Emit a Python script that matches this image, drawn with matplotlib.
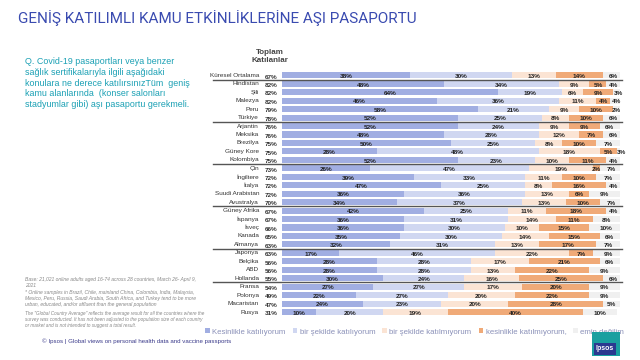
import numpy as np
import matplotlib.pyplot as plt
from matplotlib.patches import Patch, Rectangle
from matplotlib.transforms import blended_transform_factory

plt.rcParams['font.family'] = ['Liberation Sans', 'DejaVu Sans']

countries = ['Küresel Ortalama', 'Hindistan', 'Şili', 'Malezya', 'Peru', 'Türkiye',
             'Arjantin', 'Meksika', 'Brezilya', 'Güney Kore', 'Kolombiya',
             'Çin', 'İngiltere', 'İtalya', 'Suudi Arabistan', 'Avustralya',
             'Güney Afrika', 'İspanya', 'İsveç', 'Kanada', 'Almanya',
             'Japonya', 'Belçika', 'ABD', 'Hollanda',
             'Fransa', 'Polonya', 'Macaristan', 'Rusya']
total_agree = [67, 82, 82, 82, 79, 78, 76, 76, 75, 75, 75, 73, 72, 72, 72, 70,
               67, 67, 66, 65, 63, 63, 56, 56, 55, 54, 49, 47, 31]
strongly_agree = [38, 48, 64, 46, 58, 52, 52, 48, 50, 28, 52, 26, 39, 47, 36, 34,
                  42, 36, 36, 35, 32, 17, 28, 28, 30, 27, 22, 24, 10]
somewhat_agree = [30, 34, 19, 36, 21, 25, 24, 28, 25, 48, 23, 47, 33, 25, 36, 37,
                  25, 31, 30, 30, 31, 46, 28, 28, 24, 27, 27, 23, 20]
somewhat_disagree = [13, 9, 6, 11, 9, 8, 9, 12, 8, 18, 10, 19, 11, 8, 13, 13,
                     11, 14, 10, 14, 13, 22, 17, 13, 16, 17, 20, 20, 19]
strongly_disagree = [14, 5, 9, 4, 10, 10, 9, 7, 10, 5, 11, 2, 10, 16, 6, 10,
                     18, 11, 15, 15, 17, 7, 21, 22, 25, 20, 22, 28, 40]
not_sure = [6, 4, 3, 4, 2, 6, 6, 6, 7, 3, 4, 7, 7, 4, 9, 7,
            4, 8, 10, 6, 7, 9, 6, 9, 6, 9, 9, 5, 10]
series_names = ['Kesinlikle katılıyorum', 'bir şekilde katılıyorum',
                'bir şekilde katılmıyorum', 'kesinlikle katılmıyorum,', 'emin değilim']
# rows after which a separator line is drawn
group_breaks = [0, 5, 10, 15, 20, 24]

colors = ['#a1aee2', '#d0d7f1', '#fbe4d4', '#f0aa78', '#f0f0f0']
series = [strongly_agree, somewhat_agree, somewhat_disagree, strongly_disagree, not_sure]

fig = plt.figure(figsize=(6.4, 3.6), dpi=100)
ax = fig.add_axes([0.4406, 0.1214, 0.528, 0.681])

y = np.arange(len(countries))
left = np.zeros(len(countries))
for vals, col in zip(series, colors):
    vals = np.array(vals, dtype=float)
    ax.barh(y, vals, left=left, height=0.72, color=col, edgecolor='none')
    for yi, l, v in zip(y, left, vals):
        ax.text(l + v / 2, yi + 0.15, f'{int(v)}%', ha='center', va='center',
                fontsize=4.6, color='#222222', fontweight='bold')
    left += vals

ax.set_xlim(0, 100)
ax.set_ylim(len(countries) - 0.5, -0.5)
ax.axis('off')

tr = blended_transform_factory(ax.transAxes, ax.transData)
for yi, name, tot in zip(y, countries, total_agree):
    ax.text(-0.068, yi, name, transform=tr, ha='right', va='center',
            fontsize=4.6, color='#333333')
    ax.text(-0.05, yi + 0.2, f'{tot}%', transform=tr, ha='left', va='center',
            fontsize=4.6, color='#333333', fontweight='bold')
for b in group_breaks:
    ax.plot([-0.204, 1.006], [b + 0.5, b + 0.5], transform=tr, color='#555555',
            lw=1.0, clip_on=False)

fig.text(270 / 640, 1 - 56 / 360, 'Toplam\nKatılanlar', ha='center', va='center',
         fontsize=5.8, fontweight='bold', color='#444444', linespacing=1.2)

fig.text(18 / 640, 1 - 18 / 360, 'GENİŞ KATILIMLI KAMU ETKİNLİKLERİNE AŞI PASAPORTU',
         ha='left', va='center', fontsize=11, color='#3a4bb0', family='Roboto')

fig.text(25 / 640, 1 - 57 / 360,
         'Q. Covid-19 pasaportları veya benzer\nsağlık sertifikalarıyla ilgili aşağıdaki\n'
         'konulara ne derece katılırsınızTüm  geniş\nkamu alanlarında  (konser salonları\n'
         'stadyumlar gibi) aşı pasaportu gerekmeli.',
         ha='left', va='top', fontsize=6.4, color='#1aa0b4', linespacing=1.25)

fig.text(25 / 640, 1 - 277 / 360,
         'Base: 21,021 online adults aged 16-74 across 28 countries, March 26- April 9,\n2021',
         ha='left', va='top', fontsize=3.6, color='#888888', style='italic')
fig.text(25 / 640, 1 - 290 / 360,
         '* Online samples in Brazil, Chile, mainland China, Colombia, India, Malaysia,\n'
         'Mexico, Peru, Russia, Saudi Arabia, South Africa, and Turkey tend to be more\n'
         'urban, educated, and/or affluent than the general population',
         ha='left', va='top', fontsize=3.6, color='#888888', style='italic')
fig.text(25 / 640, 1 - 311 / 360,
         'The "Global Country Average" reflects the average result for all the countries where the\n'
         'survey was conducted. It has not been adjusted to the population size of each country\n'
         'or market and is not intended to suggest a total result.',
         ha='left', va='top', fontsize=3.3, color='#888888', style='italic')

fig.text(42 / 640, 1 - 341 / 360,
         '© Ipsos | Global views on personal health data and vaccine passports',
         ha='left', va='center', fontsize=4.4, color='#3a3a8a')

handles = [Patch(facecolor=c, edgecolor='none') for c in colors]
fig.legend(handles, series_names, loc='center left', bbox_to_anchor=(200 / 640, 1 - 332 / 360),
           ncol=5, frameon=False, fontsize=5.6, handlelength=0.6, handleheight=0.6,
           handletextpad=0.3, columnspacing=0.9, labelcolor='#8a90b8',
           borderpad=0.2)

fig.patches.append(Rectangle((592 / 640, 1 - 356 / 360), 28 / 640, 24 / 360,
                             transform=fig.transFigure, facecolor='#1a9fa0',
                             edgecolor='none', zorder=10))
fig.patches.append(Rectangle((594 / 640, 1 - 355 / 360), 22 / 640, 12 / 360,
                             transform=fig.transFigure, facecolor='#2b3990',
                             edgecolor='none', zorder=11))
fig.text(605 / 640, 1 - 349 / 360, 'Ipsos', ha='center', va='center',
         fontsize=5, color='white', fontweight='bold', zorder=12)

fig.savefig('out.png', dpi=100)
